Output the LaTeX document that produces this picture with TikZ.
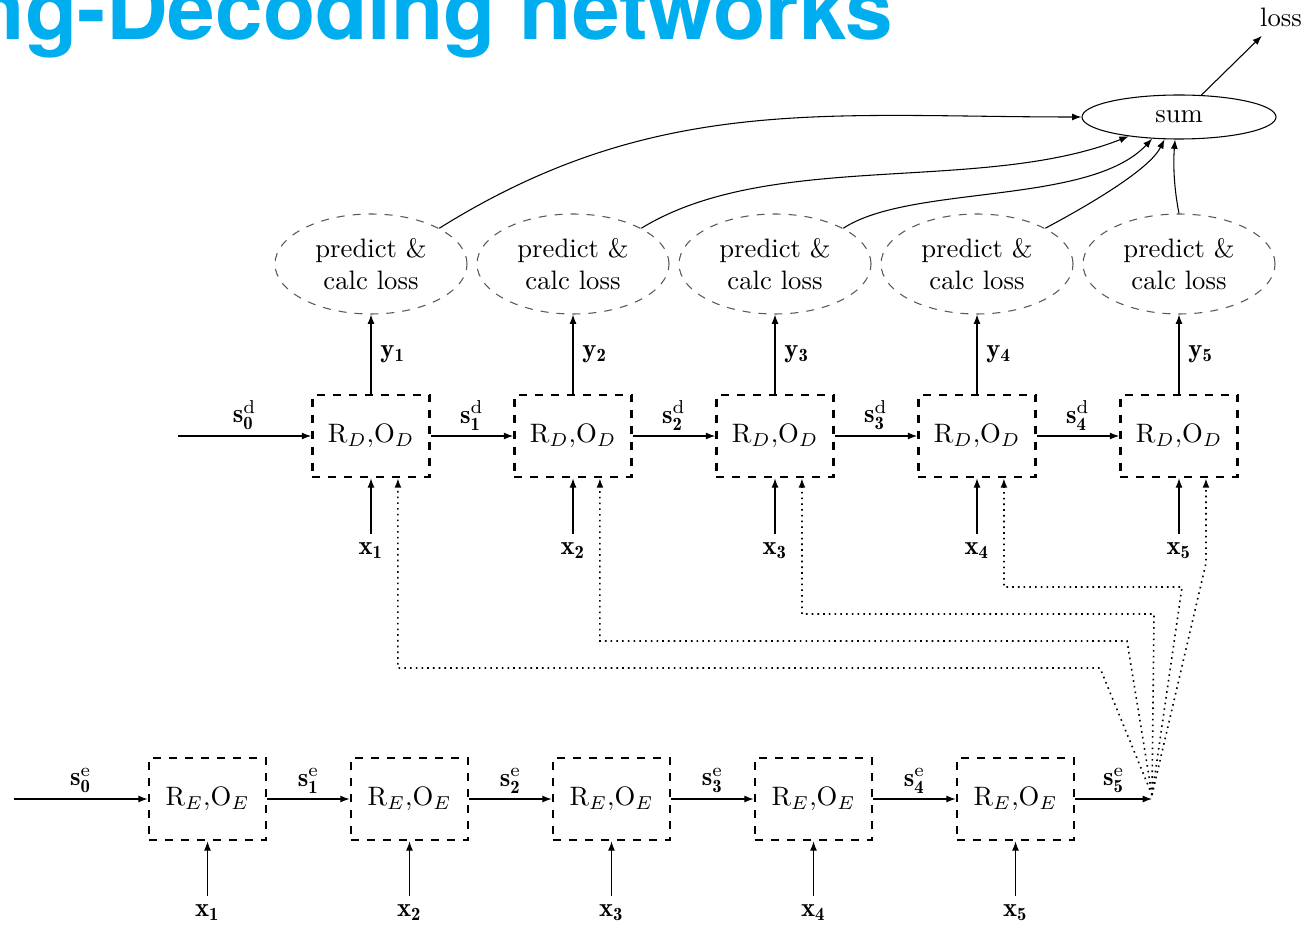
\documentclass[tikz,border=0pt]{standalone}
\usepackage{fontspec}
\newfontfamily\titlefont{TeX Gyre Heros}
\usetikzlibrary{arrows.meta,shapes.geometric}
\definecolor{titlecyan}{RGB}{0,174,239}
\begin{document}
\begin{tikzpicture}[x=0.375pt,y=-0.375pt,
  >={Latex[length=3.5pt,width=2.6pt]},
  rbox/.style={draw, dashed, line width=1pt, minimum width=43.9pt, minimum height=30.75pt, inner sep=0pt},
  predell/.style={draw=black!65, dashed, ellipse, minimum width=72pt, minimum height=37.5pt, inner sep=0pt, align=center},
  sumell/.style={draw, ellipse, minimum width=72.75pt, minimum height=16.5pt, inner sep=0pt},
  fb/.style={->, dash pattern=on 0.6pt off 1.55pt, line width=0.6pt},
  lbl/.style={inner sep=0.333em},
  slbl/.style={above, inner sep=2pt}
]
\useasboundingbox (0,0) rectangle (1307,929);

% title
\node[anchor=base east, inner sep=0pt, text=titlecyan, font=\titlefont\bfseries\fontsize{32.1}{36}\selectfont] (title) at (894,40) {ng-Decoding networks};

% decoder row
\foreach \i/\x in {1/371,2/573,3/775,4/977,5/1179}{
  \node[rbox] (dec\i) at (\x,436) {$\mathrm{R}_D{,}\mathrm{O}_D$};
  \node[predell] (pred\i) at (\x,264) {predict \&\\calc loss};
  \node[lbl] (xd\i) at (\x,551) {$\mathbf{x_{\i}}$};
  \draw[->] (xd\i) -- (dec\i);
  \draw[->] (dec\i) -- node[right] {$\mathbf{y_{\i}}$} (pred\i);
}
\coordinate (d0) at (178,436);
\draw[->] (d0) -- node[slbl] {$\mathbf{s}^{\mathrm{d}}_{\mathbf{0}}$} (dec1);
\draw[->] (dec1) -- node[slbl] {$\mathbf{s}^{\mathrm{d}}_{\mathbf{1}}$} (dec2);
\draw[->] (dec2) -- node[slbl] {$\mathbf{s}^{\mathrm{d}}_{\mathbf{2}}$} (dec3);
\draw[->] (dec3) -- node[slbl] {$\mathbf{s}^{\mathrm{d}}_{\mathbf{3}}$} (dec4);
\draw[->] (dec4) -- node[slbl] {$\mathbf{s}^{\mathrm{d}}_{\mathbf{4}}$} (dec5);

% encoder row
\foreach \i/\x in {1/207.5,2/409.5,3/611.5,4/813.5,5/1015.5}{
  \node[rbox] (enc\i) at (\x,799) {$\mathrm{R}_E{,}\mathrm{O}_E$};
  \node[lbl] (xe\i) at (\x,913) {$\mathbf{x_{\i}}$};
  \draw[->] (xe\i) -- (enc\i);
}
\coordinate (e0) at (14,799);
\coordinate (c) at (1152,799);
\draw[->] (e0) -- node[slbl] {$\mathbf{s}^{\mathrm{e}}_{\mathbf{0}}$} (enc1);
\draw[->] (enc1) -- node[slbl] {$\mathbf{s}^{\mathrm{e}}_{\mathbf{1}}$} (enc2);
\draw[->] (enc2) -- node[slbl] {$\mathbf{s}^{\mathrm{e}}_{\mathbf{2}}$} (enc3);
\draw[->] (enc3) -- node[slbl] {$\mathbf{s}^{\mathrm{e}}_{\mathbf{3}}$} (enc4);
\draw[->] (enc4) -- node[slbl] {$\mathbf{s}^{\mathrm{e}}_{\mathbf{4}}$} (enc5);
\draw[->] (enc5) -- node[slbl] {$\mathbf{s}^{\mathrm{e}}_{\mathbf{5}}$} (c);

% sum and loss
\node[sumell] (sum) at (1179,117) {sum};
\node (loss) at (1281,17) {loss};
\draw[->] (sum) -- (loss);

\draw[->] (pred1.north east) to[out=32,in=180] (sum.west);
\draw[->] (pred2.north east) .. controls +(129,-79) and +(-148,58) .. (sum.201);
\draw[->] (pred3.north east) .. controls +(67,-44) and +(-63,67) .. (sum.219);
\draw[->] (pred4.north east) .. controls +(45,-24) and +(-15,30) .. (sum.237.5);
\draw[->] (pred5.north) .. controls +(-5,-25) and +(-2,25) .. (sum.260);

% feedback dotted lines
\coordinate (k1) at (1100,668);
\coordinate (k2) at (1127,641);
\coordinate (k3) at (1154,614);
\coordinate (k4) at (1182,587);
\coordinate (k5) at (1206,563);
\coordinate (f) at (1152,795);
\draw[fb] (f) -- (k1) -| ([xshift=10.1pt]dec1.south);
\draw[fb] (f) -- (k2) -| ([xshift=10.1pt]dec2.south);
\draw[fb] (f) -- (k3) -| ([xshift=10.1pt]dec3.south);
\draw[fb] (f) -- (k4) -| ([xshift=10.1pt]dec4.south);
\draw[fb] (f) -- (k5) -- ([xshift=10.1pt]dec5.south);
\end{tikzpicture}
\end{document}
